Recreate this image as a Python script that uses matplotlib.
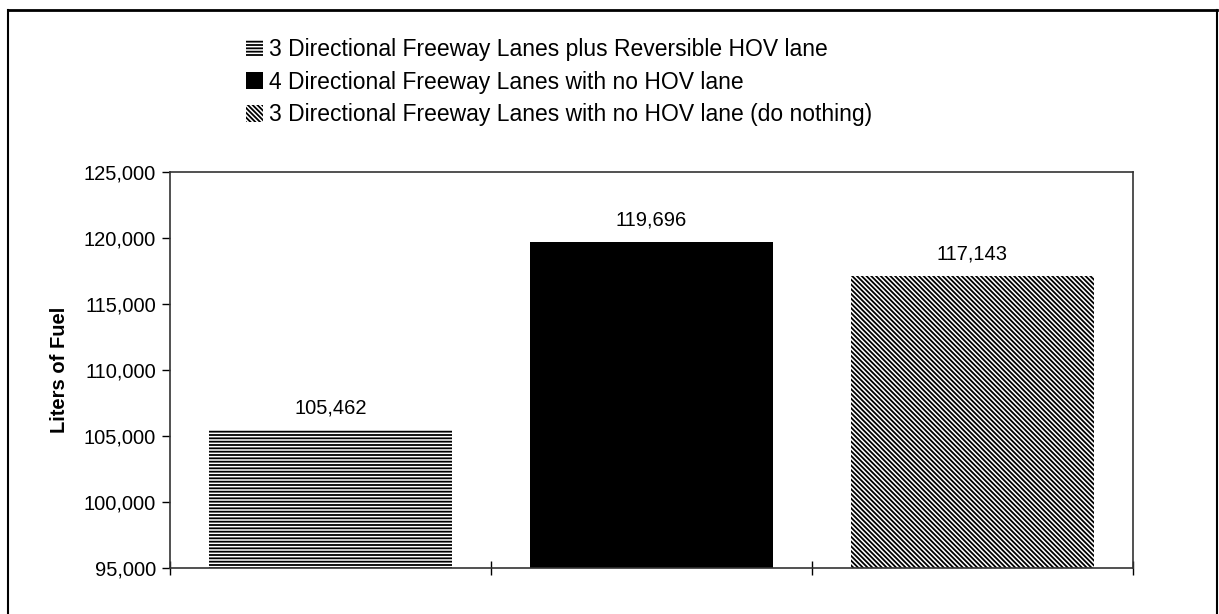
import matplotlib.pyplot as plt
from matplotlib.lines import Line2D

plt.rcParams['font.family'] = ['Liberation Sans', 'DejaVu Sans']
plt.rcParams['hatch.linewidth'] = 1.3

# data
scenarios = [
    "3 Directional Freeway Lanes plus Reversible HOV lane",
    "4 Directional Freeway Lanes with no HOV lane",
    "3 Directional Freeway Lanes with no HOV lane (do nothing)",
]
fuel = [105462, 119696, 117143]
hatches = ['-----', '', '\\' * 7]
colors = ['white', 'black', 'white']

fig = plt.figure(figsize=(12.19, 6.14), dpi=100)
ax = fig.add_axes([170 / 1219, 1 - 568 / 614, 963 / 1219, 396 / 614])

x = list(range(len(fuel)))
bars = []
for i in x:
    b = ax.bar(i, fuel[i] - 95000, bottom=95000, width=0.76, color=colors[i],
               edgecolor='black', linewidth=0, hatch=hatches[i], label=scenarios[i])
    bars.append(b[0])
    ax.annotate(f"{fuel[i]:,}", (i, fuel[i]), xytext=(0, 9), textcoords='offset points',
                ha='center', va='bottom', fontsize=14.5)

ax.set_xlim(-0.5, 2.5)
ax.set_ylim(95000, 125000)
ax.set_yticks(range(95000, 125001, 5000))
ax.set_yticklabels([f"{v:,}" for v in range(95000, 125001, 5000)], fontsize=14.5)
ax.tick_params(axis='y', direction='out', length=6, width=1, pad=4)
ax.set_xticks([-0.5, 0.5, 1.5, 2.5])
ax.set_xticklabels([])
ax.tick_params(axis='x', direction='inout', length=10, width=1)
for s in ax.spines.values():
    s.set_color('#333333')
    s.set_linewidth(1.2)
ax.set_ylabel("Liters of Fuel", fontsize=14.5, fontweight='bold', labelpad=11)

fig.legend(handles=bars, labels=scenarios, loc='upper left',
           bbox_to_anchor=(246 / 1219, 1 - 38 / 614), frameon=False, fontsize=16.5,
           handlelength=0.75, handleheight=0.75, handletextpad=0.25, labelspacing=0.42,
           borderaxespad=0, borderpad=0)

# outer frame
fig.add_artist(Line2D([8 / 1219, 1217 / 1219], [1 - 10 / 614, 1 - 10 / 614],
                      transform=fig.transFigure, color='black', lw=2))
fig.add_artist(Line2D([8 / 1219, 8 / 1219], [0, 1 - 10 / 614],
                      transform=fig.transFigure, color='black', lw=1.5))
fig.add_artist(Line2D([1217 / 1219, 1217 / 1219], [0, 1 - 10 / 614],
                      transform=fig.transFigure, color='black', lw=1.5))

fig.savefig("out.png", dpi=100)
